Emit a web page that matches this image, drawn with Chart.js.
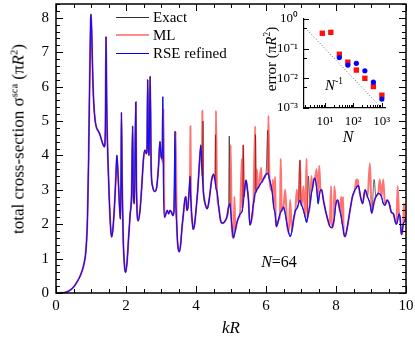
<!DOCTYPE html>
<html>
<head>
<meta charset="utf-8">
<script src="https://cdn.jsdelivr.net/npm/chart.js@4.4.1/dist/chart.umd.min.js"></script>
<style>
body{margin:0;background:#fff;}
#wrap{position:relative;width:415px;height:339px;font-family:"Liberation Serif","Times New Roman",serif;color:#000;}
canvas{position:absolute;}
#mainChart{left:0;top:0;}
#insetChart{left:250px;top:10px;}
.txt{position:absolute;white-space:nowrap;line-height:1;}
.ctr{transform:translate(-50%,-50%);}
.rot{transform:translate(-50%,-50%) rotate(-90deg);}
.lft{transform:translateY(-50%);}
sup{font-size:0.62em;vertical-align:0.55em;line-height:0;}
.legline{position:absolute;left:116px;width:33px;height:0;}
</style>
</head>
<body>
<div id="wrap">
  <canvas id="mainChart" width="415" height="339"></canvas>
  <canvas id="insetChart" width="150" height="140"></canvas>

  <div class="txt rot" style="left:18px;top:139px;font-size:17px">total cross-section σ<sup>sca</sup> (π<i>R</i><sup>2</sup>)</div>
  <div class="txt ctr" style="left:231px;top:327px;font-size:17px"><i>kR</i></div>

  <div class="legline" style="top:17px;border-top:1px solid #333"></div>
  <div class="txt lft" style="left:153px;top:17px;font-size:15px">Exact</div>
  <div class="legline" style="top:34px;border-top:2px solid rgba(255,0,0,0.45)"></div>
  <div class="txt lft" style="left:153px;top:35px;font-size:15px">ML</div>
  <div class="legline" style="top:53px;border-top:1px solid #0000ff"></div>
  <div class="txt lft" style="left:153px;top:53px;font-size:15px">RSE refined</div>

  <div class="txt ctr" style="left:279px;top:262px;font-size:16px"><i>N</i>=64</div>

  <div class="txt rot" style="left:271px;top:59px;font-size:15px">error (π<i>R</i><sup>2</sup>)</div>
  <div class="txt ctr" style="left:348px;top:137px;font-size:16px"><i>N</i></div>
  <div class="txt ctr" style="left:334px;top:85px;font-size:15px"><i>N</i><sup>-1</sup></div>
</div>

<script>
// -------------------- DATA: MAIN PANEL --------------------
const kR = [
  0, 0.2, 0.3, 0.4, 0.5, 0.6, 0.7, 0.8, 0.86, 0.9, 0.93, 0.96, 0.99, 1.0, 1.02, 1.05,
  1.08, 1.12, 1.16, 1.2, 1.25, 1.3, 1.35, 1.38, 1.41, 1.43, 1.45, 1.48, 1.52, 1.56, 1.59, 1.63, 1.68, 1.72, 1.74, 1.77, 1.81, 1.84, 1.86, 1.87, 1.89, 1.92, 1.96, 1.99,
  2.03, 2.08, 2.12, 2.16, 2.19, 2.21, 2.24, 2.28, 2.3, 2.35, 2.4, 2.45, 2.5, 2.54, 2.58, 2.6, 2.62, 2.64, 2.66, 2.69, 2.72, 2.76, 2.82, 2.88, 2.93, 2.97,
  3.0, 3.03, 3.05, 3.07, 3.1, 3.14, 3.18, 3.22, 3.26, 3.3, 3.34, 3.37, 3.4, 3.42, 3.45, 3.48, 3.52, 3.56, 3.6, 3.64, 3.68, 3.71, 3.74, 3.77, 3.8, 3.83, 3.84, 3.86, 3.89, 3.92, 3.96,
  4.0, 4.05, 4.1, 4.14, 4.17, 4.18, 4.2, 4.22, 4.26, 4.32, 4.36, 4.4, 4.45, 4.5, 4.54, 4.56, 4.57, 4.6, 4.65, 4.7, 4.75, 4.8, 4.88, 4.93, 4.95, 4.97, 4.99,
  5.02, 5.07, 5.1, 5.12, 5.17, 5.22, 5.26, 5.31, 5.33, 5.35, 5.37, 5.4, 5.43, 5.47, 5.5, 5.54, 5.58, 5.64, 5.69, 5.7, 5.72, 5.74, 5.77, 5.8, 5.86, 5.88, 5.92,
  6.0, 6.05, 6.07, 6.1, 6.17, 6.2, 6.22, 6.26, 6.28, 6.3, 6.35, 6.4, 6.42, 6.45, 6.5, 6.55, 6.6, 6.65, 6.69, 6.74, 6.79, 6.84, 6.88, 6.93, 6.97,
  7.0, 7.02, 7.07, 7.12, 7.16, 7.18, 7.21, 7.26, 7.3, 7.32, 7.37, 7.4, 7.45, 7.49, 7.52, 7.56, 7.59, 7.64, 7.7, 7.76, 7.82, 7.86, 7.88, 7.94, 7.95,
  8.0, 8.05, 8.11, 8.15, 8.18, 8.2, 8.22, 8.26, 8.32, 8.4, 8.47, 8.54, 8.58, 8.6, 8.62, 8.64, 8.7, 8.76, 8.83, 8.9, 8.97,
  9.02, 9.09, 9.14, 9.21, 9.25, 9.3, 9.35, 9.4, 9.46, 9.52, 9.58, 9.64, 9.7, 9.73, 9.76, 9.8, 9.83, 9.87, 9.92, 9.94, 9.97, 10
];

const sigmaExact = [
  0, 0.005, 0.03, 0.08, 0.17, 0.32, 0.52, 0.85, 1.3, 2.2, 3.8, 6.0, 7.9, 8.1, 7.6, 6.3,
  5.5, 5.0, 4.8, 4.72, 4.62, 4.45, 4.3, 4.25, 4.7, 7.45, 5.4, 4.0, 2.8, 1.9, 1.63, 1.9, 2.7, 3.6, 4.0, 3.5, 2.6, 2.15, 3.5, 5.25, 3.2, 1.6, 0.75, 0.6,
  0.9, 1.7, 2.3, 2.9, 4.85, 2.8, 2.6, 5.55, 3.0, 2.1, 2.4, 3.1, 3.9, 4.15, 4.05, 4.2, 6.2, 4.2, 4.0, 6.3, 3.6, 3.1, 2.95, 3.1, 3.7, 4.4,
  4.0, 3.9, 5.7, 3.2, 2.2, 2.3, 2.4, 2.3, 2.4, 2.35, 2.25, 2.4, 4.7, 2.8, 2.0, 1.4, 1.2, 1.4, 1.9, 2.3, 2.7, 2.8, 2.4, 2.5, 2.9, 3.4, 3.0, 2.6, 2.1, 1.85, 2.0,
  2.4, 3.0, 3.8, 4.3, 3.6, 3.4, 5.0, 2.85, 2.6, 2.45, 2.6, 2.9, 3.3, 3.45, 3.3, 4.6, 3.05, 2.95, 2.5, 2.12, 2.03, 2.05, 2.2, 2.5, 4.56, 2.6, 2.4,
  2.0, 1.6, 1.7, 1.8, 2.05, 2.2, 2.3, 2.35, 2.45, 4.3, 2.8, 3.1, 3.28, 3.0, 2.7, 1.98, 2.1, 2.6, 2.9, 4.6, 2.95, 3.0, 3.05, 3.1, 3.2, 3.22, 3.3,
  3.45, 4.73, 3.45, 3.3, 2.98, 2.7, 2.5, 2.3, 2.1, 1.93, 2.1, 2.3, 2.35, 2.4, 2.5, 2.3, 2.0, 1.75, 1.64, 1.8, 2.15, 2.4, 2.45, 2.6, 3.86,
  2.6, 2.55, 2.4, 2.2, 2.05, 2.15, 3.4, 2.6, 2.9, 3.0, 3.3, 3.34, 3.0, 2.6, 2.8, 3.0, 3.0, 2.7, 2.4, 2.15, 1.95, 1.9, 1.9, 2.1, 2.15,
  2.6, 2.7, 2.4, 2.2, 2.0, 1.9, 1.75, 1.64, 1.9, 2.4, 2.8, 3.0, 3.05, 3.1, 3.1, 3.13, 2.8, 2.6, 3.0, 2.8, 2.6,
  2.32, 3.3, 2.8, 2.9, 2.88, 2.8, 2.6, 2.55, 2.7, 2.6, 2.35, 2.3, 2.05, 2.0, 2.1, 2.3, 2.2, 1.7, 2.0, 2.05, 2.1, 2.2
];

const sigmaML = [
  0, 0.005, 0.03, 0.08, 0.17, 0.32, 0.52, 0.85, 1.3, 2.2, 3.8, 6.0, 7.9, 8.1, 7.6, 6.3,
  5.5, 5.0, 4.8, 4.72, 4.62, 4.45, 4.3, 4.25, 4.7, 7.45, 5.4, 4.0, 2.8, 1.9, 1.63, 1.9, 2.7, 3.6, 4.0, 3.5, 2.6, 2.15, 3.5, 5.25, 3.2, 1.6, 0.75, 0.6,
  0.9, 1.7, 2.3, 2.9, 4.85, 2.8, 2.6, 5.55, 3.0, 2.1, 2.4, 3.1, 3.9, 4.15, 4.05, 4.2, 6.2, 4.2, 4.0, 6.3, 3.6, 3.1, 2.95, 3.1, 3.7, 4.4,
  4.0, 3.9, 3.8, 5.35, 2.2, 2.3, 2.4, 2.3, 2.4, 2.35, 2.25, 2.4, 3.2, 4.7, 2.0, 1.4, 1.2, 1.4, 1.9, 2.3, 2.7, 2.8, 2.4, 2.5, 2.9, 3.4, 4.85, 2.6, 2.1, 1.85, 2.0,
  2.4, 3.0, 3.8, 4.3, 3.6, 5.3, 3.1, 2.85, 2.6, 2.45, 2.6, 2.9, 3.3, 3.45, 3.3, 3.15, 5.3, 2.95, 2.5, 2.12, 2.03, 2.05, 2.2, 2.5, 2.55, 2.6, 4.3,
  2.0, 1.6, 2.8, 1.8, 2.05, 2.2, 2.3, 3.9, 2.45, 4.3, 2.8, 3.1, 3.28, 3.0, 2.7, 1.98, 2.1, 2.6, 4.85, 2.92, 2.95, 3.6, 3.05, 3.1, 3.64, 3.22, 3.3,
  3.45, 3.48, 5.15, 3.3, 2.98, 3.3, 2.5, 3.38, 2.1, 1.93, 2.1, 2.3, 3.9, 2.4, 2.5, 3.0, 2.0, 1.75, 2.7, 1.8, 2.15, 2.4, 3.0, 2.6, 3.86,
  2.6, 2.55, 3.1, 2.2, 3.9, 2.15, 2.3, 2.6, 3.4, 3.0, 3.3, 3.34, 3.6, 2.6, 3.7, 3.0, 3.0, 2.7, 2.4, 2.15, 1.95, 3.1, 1.9, 2.1, 3.1,
  2.6, 2.7, 2.4, 2.8, 2.0, 2.8, 1.75, 1.64, 1.9, 2.4, 2.8, 3.0, 3.3, 3.1, 3.3, 3.13, 2.8, 2.6, 3.0, 2.8, 3.77,
  2.32, 2.65, 2.8, 2.9, 3.3, 2.8, 3.3, 2.55, 2.7, 2.6, 2.35, 2.3, 2.05, 2.0, 3.1, 2.3, 2.2, 1.7, 2.0, 2.6, 2.1, 2.2
];

const sigmaRSE = [
  0, 0.005, 0.03, 0.08, 0.17, 0.32, 0.52, 0.85, 1.3, 2.2, 3.8, 6.0, 7.9, 8.1, 7.6, 6.3,
  5.5, 5.0, 4.8, 4.72, 4.62, 4.45, 4.3, 4.25, 4.7, 7.45, 5.4, 4.0, 2.8, 1.9, 1.63, 1.9, 2.7, 3.6, 4.0, 3.5, 2.6, 2.15, 3.5, 5.25, 3.2, 1.6, 0.75, 0.6,
  0.9, 1.7, 2.3, 2.9, 4.85, 2.8, 2.6, 5.55, 3.0, 2.1, 2.4, 3.1, 3.9, 4.15, 4.05, 4.2, 6.2, 4.2, 4.0, 6.3, 3.6, 3.1, 2.95, 3.1, 3.7, 4.4,
  4.0, 3.9, 5.7, 3.2, 2.2, 2.3, 2.4, 2.3, 2.4, 2.35, 2.25, 2.4, 4.7, 2.8, 2.0, 1.4, 1.2, 1.4, 1.9, 2.3, 2.7, 2.8, 2.4, 2.5, 2.9, 3.4, 3.0, 2.6, 2.1, 1.85, 2.0,
  2.4, 3.0, 3.8, 4.3, 3.6, 3.4, 3.1, 2.85, 2.6, 2.45, 2.6, 2.9, 3.3, 3.45, 3.3, 3.15, 3.05, 2.95, 2.5, 2.12, 2.03, 2.05, 2.2, 2.5, 2.55, 2.6, 2.4,
  2.0, 1.6, 1.7, 1.8, 2.05, 2.2, 2.3, 2.35, 2.45, 2.6, 2.8, 3.1, 3.28, 3.0, 2.7, 1.98, 2.1, 2.6, 2.9, 2.92, 2.95, 3.0, 3.05, 3.1, 3.2, 3.22, 3.3,
  3.45, 3.48, 3.45, 3.3, 2.98, 2.7, 2.5, 2.3, 2.1, 1.93, 2.1, 2.3, 2.35, 2.4, 2.5, 2.3, 2.0, 1.75, 1.64, 1.8, 2.15, 2.4, 2.45, 2.6, 2.7,
  2.6, 2.55, 2.4, 2.2, 2.05, 2.15, 2.3, 2.6, 2.9, 3.0, 3.3, 3.34, 3.0, 2.6, 2.8, 3.0, 3.0, 2.7, 2.4, 2.15, 1.95, 1.9, 1.9, 2.1, 2.15,
  2.6, 2.7, 2.4, 2.2, 2.0, 1.9, 1.75, 1.64, 1.9, 2.4, 2.8, 3.0, 3.05, 3.1, 3.1, 3.13, 2.8, 2.6, 3.0, 2.8, 2.6,
  2.32, 2.65, 2.8, 2.9, 2.88, 2.8, 2.6, 2.55, 2.7, 2.6, 2.35, 2.3, 2.05, 2.0, 2.1, 2.3, 2.2, 1.7, 2.0, 2.05, 2.1, 2.2
];

const kRTicks = [0, 2, 4, 6, 8, 10];
const sigmaTicks = [0, 1, 2, 3, 4, 5, 6, 7, 8];

// -------------------- DATA: INSET --------------------
const nML = [8, 16, 32, 64, 128, 256, 512, 1024];
const errML = [0.33, 0.355, 0.065, 0.035, 0.019, 0.010, 0.0053, 0.0027];
const nRSE = [32, 64, 128, 256, 512, 1024];
const errRSE = [0.050, 0.028, 0.032, 0.018, 0.0074, 0.0020];
const nGuide = [2, 1000];
const errGuide = [0.5, 0.001];
const nTicks = [10, 100, 1000];
const nTickLabels = ['10¹', '10²', '10³'];
const errTicks = [0.001, 0.01, 0.1, 1];
const errTickLabels = ['10⁻³', '10⁻²', '10⁻¹', '10⁰'];

const SERIF = '"Liberation Serif", "Times New Roman", serif';

// -------------------- TICK MARKS / FRAME --------------------
function markX(ctx, scale, v, y0, len){
    const x = Math.round(scale.getPixelForValue(v)) + 0.5;
    ctx.moveTo(x, y0); ctx.lineTo(x, y0 + len);
}
function markY(ctx, scale, v, x0, len){
    const y = Math.round(scale.getPixelForValue(v)) + 0.5;
    ctx.moveTo(x0, y); ctx.lineTo(x0 + len, y);
}
// chart.js reserves half a label at each end of an axis, we place the area ourselves
function noEdgePadding(s){
    s.paddingTop = 0; s.paddingBottom = 0; s.paddingLeft = 0; s.paddingRight = 0;
}

const mainFrame = {
    id: 'mainFrame',
    afterDraw(chart){
        const {ctx, chartArea:a, scales} = chart;
        ctx.save();
        ctx.strokeStyle = '#000';
        ctx.lineWidth = 1.5;
        ctx.strokeRect(a.left, a.top, a.right - a.left, a.bottom - a.top);
        ctx.lineWidth = 1;
        ctx.beginPath();
        for(let i = 0; i <= 20; i++){
            const v = i * 0.5;
            const len = (i % 4 === 0) ? 7 : 4;
            markX(ctx, scales.x, v, a.bottom, -len);
            markX(ctx, scales.x, v, a.top, len);
        }
        for(let i = 0; i <= 42; i++){
            const v = i * 0.2;
            const len = (i % 5 === 0) ? 7 : 4;
            markY(ctx, scales.y, v, a.left, len);
            markY(ctx, scales.y, v, a.right, -len);
        }
        ctx.stroke();
        ctx.restore();
    }
};

const insetFrame = {
    id: 'insetFrame',
    afterDraw(chart){
        const {ctx, chartArea:a, scales} = chart;
        ctx.save();
        ctx.strokeStyle = '#000';
        ctx.lineWidth = 1;
        ctx.beginPath();
        [1, 10, 100, 1000].forEach(dec => {
            for(let m = 1; m <= 9; m++){
                const v = dec * m;
                if(v < scales.x.min || v > scales.x.max) continue;
                markX(ctx, scales.x, v, a.bottom, m === 1 ? -5 : -3);
            }
        });
        errTicks.forEach(v => markY(ctx, scales.y, v, a.left, 5));
        [0.005, 0.05, 0.5].forEach(v => markY(ctx, scales.y, v, a.left, 3));
        ctx.stroke();
        ctx.restore();
    }
};

// -------------------- MAIN CHART --------------------
const toPoints = (xs, ys) => xs.map((x, i) => ({x, y: ys[i]}));

new Chart(document.getElementById('mainChart'), {
    type: 'line',
    data: {
        datasets: [
            {label: 'RSE refined', data: toPoints(kR, sigmaRSE), borderColor: '#1010ff', borderWidth: 1.2, order: 1},
            {label: 'ML', data: toPoints(kR, sigmaML), borderColor: 'rgba(255,0,0,0.55)', borderWidth: 2, order: 2},
            {label: 'Exact', data: toPoints(kR, sigmaExact), borderColor: '#000', borderWidth: 0.6, order: 3}
        ]
    },
    options: {
        responsive: false,
        animation: false,
        devicePixelRatio: 1,
        layout: {padding: {top: 4, right: 9, left: 0, bottom: 0}},
        elements: {point: {radius: 0}, line: {cubicInterpolationMode: 'monotone'}},
        plugins: {legend: {display: false}, tooltip: {enabled: false}},
        scales: {
            x: {
                type: 'linear', min: 0, max: 10,
                afterBuildTicks: s => { s.ticks = kRTicks.map(v => ({value: v})); },
                afterFit: s => { s.height = 46; noEdgePadding(s); },
                grid: {display: false, drawTicks: false},
                border: {display: false},
                ticks: {color: '#000', font: {family: SERIF, size: 15}, padding: 4, maxRotation: 0, autoSkip: false}
            },
            y: {
                type: 'linear', min: 0, max: 8.4,
                afterBuildTicks: s => { s.ticks = sigmaTicks.map(v => ({value: v})); },
                afterFit: s => { s.width = 56; noEdgePadding(s); },
                grid: {display: false, drawTicks: false},
                border: {display: false},
                ticks: {color: '#000', font: {family: SERIF, size: 15}, padding: 7, autoSkip: false}
            }
        }
    },
    plugins: [mainFrame]
});

// -------------------- INSET CHART --------------------
new Chart(document.getElementById('insetChart'), {
    type: 'scatter',
    data: {
        datasets: [
            {label: 'RSE refined', data: toPoints(nRSE, errRSE), pointStyle: 'circle', pointRadius: 2.6, backgroundColor: '#0000ff', borderWidth: 0, order: 1},
            {label: 'ML', data: toPoints(nML, errML), pointStyle: 'rect', pointRadius: 3.8, backgroundColor: '#ff1010', borderWidth: 0, order: 2},
            {label: 'N^-1', data: toPoints(nGuide, errGuide), showLine: true, pointRadius: 0, borderColor: '#666', borderWidth: 1, borderDash: [1, 2], order: 3}
        ]
    },
    options: {
        responsive: false,
        animation: false,
        devicePixelRatio: 1,
        layout: {padding: {top: 9, right: 15, left: 0, bottom: 0}},
        plugins: {legend: {display: false}, tooltip: {enabled: false}},
        scales: {
            x: {
                type: 'logarithmic', min: 1.8, max: 1320,
                afterBuildTicks: s => { s.ticks = nTicks.map(v => ({value: v})); },
                afterFit: s => { s.height = 42; noEdgePadding(s); },
                grid: {display: false, drawTicks: false},
                border: {display: true, color: '#000', width: 1.2},
                ticks: {color: '#000', font: {family: SERIF, size: 13}, padding: 6, maxRotation: 0, autoSkip: false,
                        callback: (v, i) => nTickLabels[i]}
            },
            y: {
                type: 'logarithmic', min: 0.001, max: 1,
                afterBuildTicks: s => { s.ticks = errTicks.map(v => ({value: v})); },
                afterFit: s => { s.width = 54; noEdgePadding(s); },
                grid: {display: false, drawTicks: false},
                border: {display: true, color: '#000', width: 1.2},
                ticks: {color: '#000', font: {family: SERIF, size: 13}, padding: 6, autoSkip: false,
                        callback: (v, i) => errTickLabels[i]}
            }
        }
    },
    plugins: [insetFrame]
});
</script>
</body>
</html>
